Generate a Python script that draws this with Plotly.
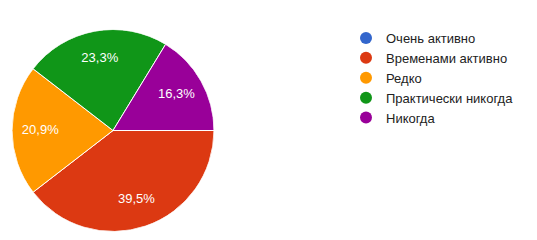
import plotly.graph_objects as go

labels = ["Очень активно", "Временами активно", "Редко", "Практически никогда", "Никогда"]
counts = [0, 17, 9, 10, 7]
colors = ["#3366cc", "#dc3912", "#ff9900", "#109618", "#990099"]

total = sum(counts)
widths = [360.0 * c / total for c in counts]
starts = []
acc = 90.0
for w in widths:
    starts.append(acc)
    acc += w
centers = [s + w / 2 for s, w in zip(starts, widths)]
texts = [("" if c == 0 else f"{100*c/total:.1f}".replace(".", ",") + "%") for c in counts]

W, H = 537, 240
FONT = "Liberation Sans, Arial, sans-serif"
fig = go.Figure()
fig.add_trace(go.Barpolar(
    r=[1] * len(counts), theta=centers, width=widths, base=0,
    marker=dict(color=colors, line=dict(color="white", width=1)),
    showlegend=False, hovertext=labels, hoverinfo="text",
))
fig.add_trace(go.Scatterpolar(
    r=[0.72] * len(counts), theta=centers, mode="text", text=texts,
    textfont=dict(color="white", size=13, family=FONT),
    showlegend=False, hoverinfo="skip",
))
for lab, col in zip(labels, colors):
    fig.add_trace(go.Scatterpolar(r=[None], theta=[None], mode="markers", name=lab,
                                  marker=dict(color=col, size=12, symbol="circle")))

fig.update_layout(
    width=W, height=H, margin=dict(l=0, r=0, t=0, b=0),
    paper_bgcolor="white",
    polar=dict(
        domain=dict(x=[12/W, 214/W], y=[(H-232)/H, (H-29)/H]),
        bgcolor="rgba(0,0,0,0)", hole=0,
        radialaxis=dict(visible=False, range=[0, 1]),
        angularaxis=dict(visible=False, rotation=90, direction="clockwise"),
    ),
    font=dict(family=FONT, size=13, color="#222222"),
    legend=dict(x=346/W, y=1-23/H, xanchor="left", yanchor="top",
                font=dict(size=13, color="#222222", family=FONT), tracegroupgap=0,
                itemsizing="trace", bgcolor="rgba(0,0,0,0)"),
)
fig.write_html("out.html")
